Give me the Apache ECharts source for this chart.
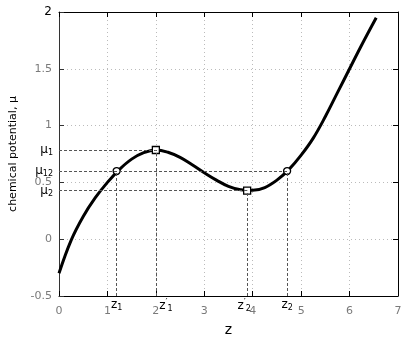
<!DOCTYPE html>
<html>
<head>
<meta charset="utf-8">
<script src="https://cdn.jsdelivr.net/npm/echarts@6/dist/echarts.min.js"></script>
<style>
  html, body { margin: 0; padding: 0; background: #fff; }
  #chart { width: 417px; height: 346px; }
</style>
</head>
<body>
<div id="chart"></div>
<script>
(function () {

  // curve
  var zs  = [0, 0.25, 0.5, 0.75, 1, 1.25, 1.5, 1.75, 2, 2.25, 2.5, 2.75, 3, 3.25, 3.5, 3.75, 4, 4.25, 4.5, 4.75, 5, 5.25, 5.5, 5.75, 6, 6.25, 6.55];
  var mus = [-0.30, -0.01, 0.20, 0.365, 0.50, 0.615, 0.705, 0.762, 0.785, 0.765, 0.72, 0.655, 0.585, 0.52, 0.465, 0.435, 0.43, 0.455, 0.52, 0.615, 0.74, 0.89, 1.08, 1.29, 1.5, 1.71, 1.95];

  // special points
  var z1 = 1.19, z1p = 2.0, z2p = 3.885, z2 = 4.71;
  var mu1 = 0.785, mu12 = 0.60, mu2 = 0.427;

  var font = 'DejaVu Sans';
  var grey = '#7a7a7a';
  var dashColor = '#555';

  var sub = { fontFamily: font, fontSize: 8, color: '#000', verticalAlign: 'bottom', padding: [6, 0, 0, 0] };
  var big = { fontFamily: font, fontSize: 12, color: '#000' };
  var prm = { fontFamily: font, fontSize: 9, color: '#000', verticalAlign: 'top', padding: [0, 0, 6, 0] };

  function hLine(mu, z, name) {
    return [
      { coord: [0, mu], label: { formatter: name } },
      { coord: [z, mu] }
    ];
  }
  function vLine(z, mu, name, dx) {
    return [
      { coord: [z, -0.5], label: { formatter: name, distance: 2, offset: [dx || 0, 0] } },
      { coord: [z, mu] }
    ];
  }

  var myChart = echarts.init(document.getElementById('chart'));
  var option = {
    animation: false,
    backgroundColor: '#fff',
    grid: { left: 57, right: 19, top: 12, bottom: 50 },
    xAxis: [{
      type: 'value', min: 0, max: 7, interval: 1,
      name: 'z', nameLocation: 'middle', nameGap: 27,
      nameTextStyle: { fontFamily: font, fontSize: 14, color: '#000' },
      axisLine: { onZero: false, lineStyle: { color: '#000', width: 1 } },
      axisTick: { inside: true, length: 5, lineStyle: { color: '#000' } },
      axisLabel: { fontFamily: font, fontSize: 11, color: grey, margin: 10 },
      splitLine: { show: true, lineStyle: { color: '#bbb', type: [1, 3] } }
    }, {
      type: 'value', min: 0, max: 7, interval: 1, position: 'top',
      axisLine: { show: true, onZero: false, lineStyle: { color: '#000', width: 1 } },
      axisTick: { show: true, inside: true, length: 5, lineStyle: { color: '#000' } },
      axisLabel: { show: false },
      splitLine: { show: false }
    }],
    yAxis: [{
      type: 'value', min: -0.5, max: 2, interval: 0.5,
      name: 'chemical potential, \u03bc', nameLocation: 'middle', nameGap: 40,
      nameTextStyle: { fontFamily: font, fontSize: 11, color: '#000' },
      axisLine: { show: true, onZero: false, lineStyle: { color: '#333', width: 1 } },
      axisTick: { show: true, inside: true, length: 5, lineStyle: { color: '#333' } },
      axisLabel: {
        fontFamily: font, fontSize: 11, color: grey, margin: 7,
        formatter: function (v) { return v === 2 ? '{k|2}' : String(v); },
        rich: { k: { fontFamily: font, fontSize: 12, color: '#000' } }
      },
      splitLine: { show: true, lineStyle: { color: '#bbb', type: [1, 3] } }
    }, {
      type: 'value', min: -0.5, max: 2, interval: 0.5, position: 'right',
      axisLine: { show: true, onZero: false, lineStyle: { color: '#000', width: 1 } },
      axisTick: { show: true, inside: true, length: 5, lineStyle: { color: '#000' } },
      axisLabel: { show: false },
      splitLine: { show: false }
    }],
    series: [{
      name: 'guides',
      type: 'line',
      data: [],
      markLine: {
        silent: true,
        symbol: ['none', 'none'],
        lineStyle: { color: dashColor, type: [3, 2], width: 1 },
        label: {
          position: 'start', distance: 6,
          rich: { b: big, s: sub, p: prm }
        },
        data: [
          hLine(mu1, z1p, '{b|\u03bc}{s|1}'),
          hLine(mu12, z2, '{b|\u03bc}{s|12}'),
          hLine(mu2, z2p, '{b|\u03bc}{s|2}'),
          vLine(z1, mu12, '{b|z}{s|1}'),
          vLine(z1p, mu1, '{b|z}{p|\u2032}{s|1}', 10),
          vLine(z2p, mu2, '{b|z}{p|\u2032}{s|2}', -3),
          vLine(z2, mu12, '{b|z}{s|2}')
        ]
      }
    }, {
      name: 'mu',
      type: 'line',
      smooth: 0.4,
      showSymbol: false,
      lineStyle: { color: '#000', width: 3 },
      data: zs.map(function (z, i) { return [z, mus[i]]; }),
      z: 3
    }, {
      name: 'binodal',
      type: 'scatter',
      symbol: 'circle',
      symbolSize: 7,
      itemStyle: { color: '#fff', opacity: 1, borderColor: '#000', borderWidth: 1.3 },
      data: [[z1, mu12], [z2, mu12]],
      z: 4
    }, {
      name: 'spinodal',
      type: 'scatter',
      symbol: 'rect',
      symbolSize: 7,
      itemStyle: { color: '#fff', opacity: 1, borderColor: '#000', borderWidth: 1.3 },
      data: [[z1p, mu1], [z2p, mu2]],
      z: 4
    }]
  };

  myChart.setOption(option);
})();
</script>
</body>
</html>
